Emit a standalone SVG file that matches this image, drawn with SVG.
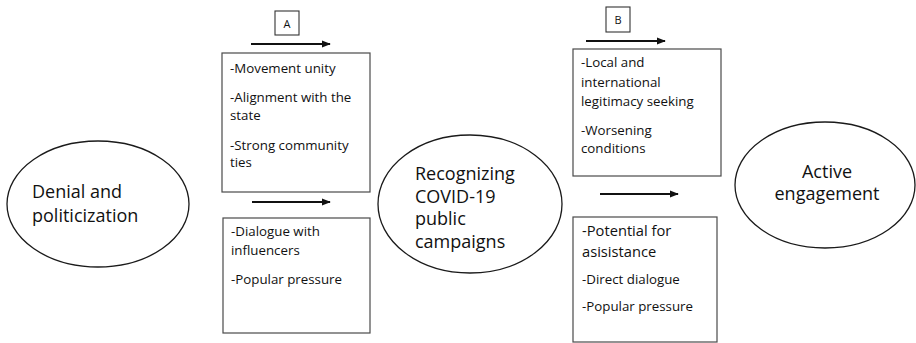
<svg xmlns="http://www.w3.org/2000/svg" width="916" height="343" viewBox="0 0 916 343">
<style>
.bg{fill:#ffffff}
.ell{fill:none;stroke:#1a1a1a;stroke-width:1.3}
.box{fill:none;stroke:#4a4a4a;stroke-width:1.2}
.lbl{fill:none;stroke:#333333;stroke-width:1.1}
.arr{fill:none;stroke:#111111;stroke-width:1.8}
text{font-family:"Open Sans","Noto Sans","DejaVu Sans",sans-serif;fill:#111111}
.t{font-size:13.3px}
.tl{font-size:14.7px}
.e{font-size:18px}
.l{font-size:11px}
</style>
<defs>
<marker id="ah" viewBox="0 0 10 10" refX="9" refY="5" markerWidth="5" markerHeight="5" orient="auto" markerUnits="strokeWidth">
<path d="M0,1 L10,5 L0,9 Z" fill="#111111"/>
</marker>
</defs>
<rect class="bg" x="0" y="0" width="916" height="343"/>

<g id="node-denial">
<ellipse class="ell" cx="98" cy="204" rx="91" ry="63"/>
<text class="e" x="32" y="198">Denial and</text>
<text class="e" x="32" y="222">politicization</text>
</g>

<g id="node-recognizing">
<ellipse class="ell" cx="470" cy="204" rx="92" ry="69"/>
<text class="e" x="415" y="180">Recognizing</text>
<text class="e" x="415" y="203">COVID-19</text>
<text class="e" x="415" y="225">public</text>
<text class="e" x="415" y="248">campaigns</text>
</g>

<g id="node-active">
<ellipse class="ell" cx="825" cy="185" rx="90" ry="63"/>
<text class="e" x="827" y="178" text-anchor="middle">Active</text>
<text class="e" x="827" y="200" text-anchor="middle">engagement</text>
</g>

<g id="label-a">
<rect class="lbl" x="275" y="11" width="24" height="24"/>
<text class="l" x="287" y="27.5" text-anchor="middle">A</text>
</g>

<g id="label-b">
<rect class="lbl" x="606" y="7" width="24" height="25"/>
<text class="l" x="618" y="24" text-anchor="middle">B</text>
</g>

<g id="box-a-upper">
<rect class="box" x="222" y="53" width="148" height="139"/>
<text class="t" x="230" y="73">-Movement unity</text>
<text class="t" x="230" y="102">-Alignment with the</text>
<text class="t" x="230" y="120">state</text>
<text class="t" x="230" y="150">-Strong community</text>
<text class="t" x="230" y="167">ties</text>
</g>

<g id="box-a-lower">
<rect class="box" x="223" y="218" width="147" height="115"/>
<text class="t" x="231" y="236">-Dialogue with</text>
<text class="t" x="231" y="255">influencers</text>
<text class="t" x="231" y="284">-Popular pressure</text>
</g>

<g id="box-b-upper">
<rect class="box" x="573" y="49" width="148" height="127"/>
<text class="t" x="581" y="67">-Local and</text>
<text class="t" x="581" y="87">international</text>
<text class="t" x="581" y="106">legitimacy seeking</text>
<text class="t" x="581" y="135">-Worsening</text>
<text class="t" x="581" y="153">conditions</text>
</g>

<g id="box-b-lower">
<rect class="box" x="573" y="217" width="144" height="125"/>
<text class="tl" x="582" y="236">-Potential for</text>
<text class="tl" x="582" y="257">asisistance</text>
<text class="t" x="582" y="284">-Direct dialogue</text>
<text class="t" x="582" y="311">-Popular pressure</text>
</g>

<g id="connectors">
<line class="arr" x1="251" y1="44" x2="330" y2="44" marker-end="url(#ah)"/>
<line class="arr" x1="252" y1="202" x2="330" y2="202" marker-end="url(#ah)"/>
<line class="arr" x1="586" y1="41" x2="665" y2="41" marker-end="url(#ah)"/>
<line class="arr" x1="600" y1="194" x2="678" y2="194" marker-end="url(#ah)"/>
</g>
</svg>
